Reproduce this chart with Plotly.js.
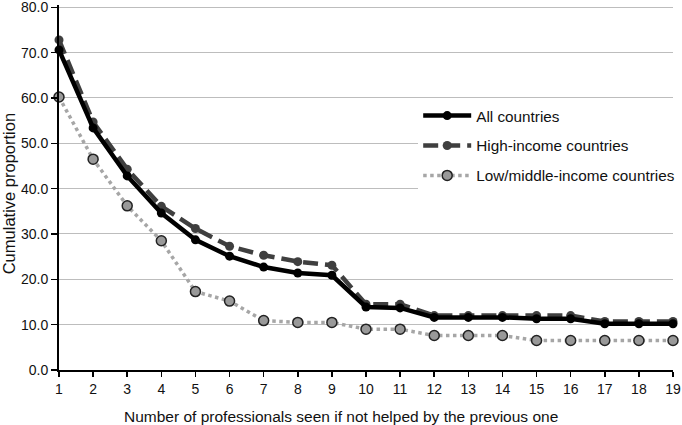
<!DOCTYPE html>
<html><head><meta charset="utf-8">
<script src="https://cdn.plot.ly/plotly-3.0.1.min.js"></script>
<style>html,body{margin:0;padding:0;background:#fff}#c{width:682px;height:425px}</style>
</head><body><div id="c"></div>
<script>
const professionals = [1,2,3,4,5,6,7,8,9,10,11,12,13,14,15,16,17,18,19];
const allCountries = [70.6,53.4,42.8,34.6,28.7,25.1,22.7,21.4,20.9,13.9,13.7,11.6,11.6,11.6,11.3,11.3,10.2,10.2,10.2];
const highIncome  = [72.8,54.7,44.3,36.1,31.2,27.3,25.3,23.9,23.1,14.5,14.5,12.0,12.0,12.0,12.0,12.0,10.7,10.7,10.7];
const lowMiddle   = [60.2,46.5,36.2,28.5,17.3,15.2,10.9,10.5,10.5,9.0,9.0,7.6,7.6,7.6,6.5,6.5,6.5,6.5,6.5];
const seriesNames = ["All countries","High-income countries","Low/middle-income countries"];
const yTicks = [0,10,20,30,40,50,60,70,80];
const xTitle = "Number of professionals seen if not helped by the previous one";
const yTitle = "Cumulative proportion";

const traces = [
  {x: professionals, y: highIncome, name: seriesNames[1], legendgroup:"b", legendrank:2, mode:"lines+markers",
   line:{color:"#3f3f3f", width:4.5, dash:"15px,7px"}, marker:{color:"#3f3f3f", size:9}, cliponaxis:false},
  {x: professionals, y: lowMiddle, name: seriesNames[2], legendgroup:"c", legendrank:3, mode:"lines+markers",
   line:{color:"#a6a6a6", width:3.5, dash:"dot"}, marker:{color:"#999999", size:10, line:{color:"#222", width:1.5}}, cliponaxis:false},
  {x: professionals, y: allCountries, name: seriesNames[0], legendgroup:"a", legendrank:1, mode:"lines+markers",
   line:{color:"#000", width:4.5}, marker:{color:"#000", size:9}, cliponaxis:false}
];

const layout = {
  width:682, height:425,
  margin:{l:59, r:9, t:5, b:55, autoexpand:false},
  paper_bgcolor:"#fff", plot_bgcolor:"#fff",
  font:{family:"Liberation Sans, Arial, sans-serif", size:14, color:"#111"},
  showlegend:true,
  legend:{x:0.585, y:0.742, xanchor:"left", yanchor:"top", bgcolor:"#fff", borderwidth:0,
          font:{size:15.3, color:"#111"}, tracegroupgap:7, itemwidth:48, traceorder:"grouped"},
  xaxis:{range:[1,19], tickmode:"array", tickvals:professionals, ticks:"outside", ticklen:5, tickwidth:1.5, tickcolor:"#000",
         showline:true, linecolor:"#000", linewidth:2, showgrid:false, zeroline:false,
         tickfont:{size:14}},
  yaxis:{range:[0,80.5], tickmode:"array", tickvals:yTicks, tickformat:".1f", ticks:"outside", ticklen:6, tickwidth:1.5, tickcolor:"#000",
         showline:true, linecolor:"#000", linewidth:2, showgrid:true, gridcolor:"#bdbdbd", gridwidth:1, zeroline:false,
         ticklabeloverflow:"allow", tickfont:{size:14}},
  annotations:[
    {text:xTitle, xref:"paper", yref:"paper", x:0.4585, y:-0.128, xanchor:"center", yanchor:"middle", showarrow:false, font:{size:15.5, color:"#111"}},
    {text:yTitle, xref:"paper", yref:"paper", x:-0.0815, y:0.484, xanchor:"center", yanchor:"middle", textangle:-90, showarrow:false, font:{size:16.5, color:"#111"}}
  ]
};
Plotly.newPlot("c", traces, layout, {displayModeBar:false, staticPlot:true});
</script></body></html>
